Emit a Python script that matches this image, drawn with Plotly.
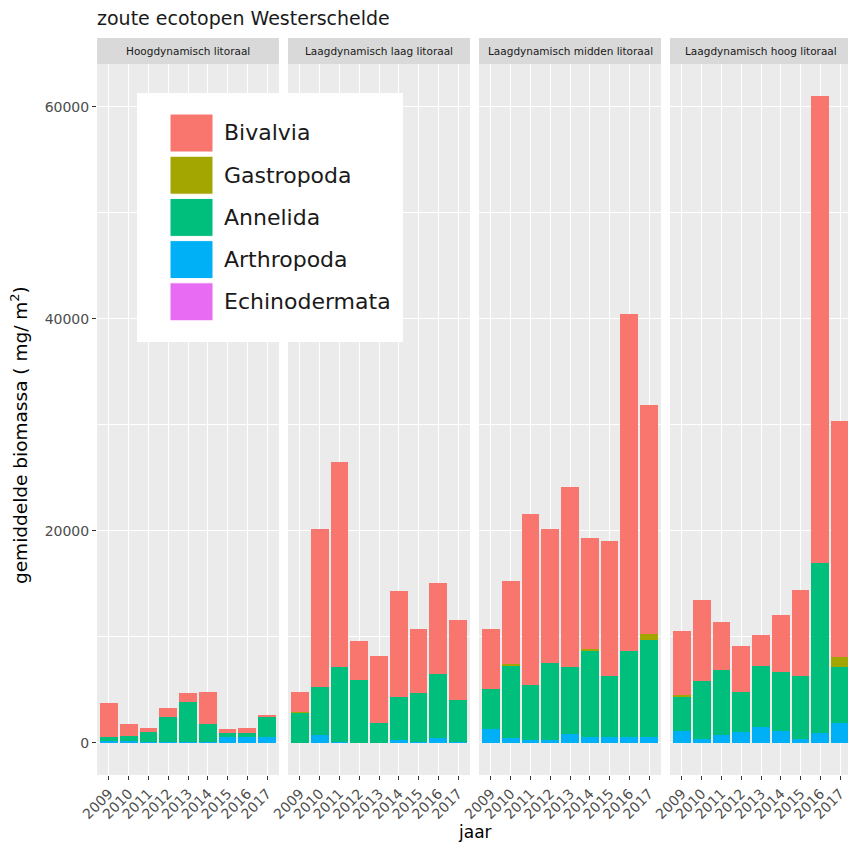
import plotly.graph_objects as go
from plotly.subplots import make_subplots

years = ["2009", "2010", "2011", "2012", "2013", "2014", "2015", "2016", "2017"]
panels = ["Hoogdynamisch litoraal", "Laagdynamisch laag litoraal",
          "Laagdynamisch midden litoraal", "Laagdynamisch hoog litoraal"]
groups = ["Bivalvia", "Gastropoda", "Annelida", "Arthropoda", "Echinodermata"]

bivalvia = [
    [3200, 1130, 380, 850, 850, 3020, 350, 470, 60],
    [1850, 14880, 19400, 3680, 6350, 10060, 6000, 8590, 7500],
    [5600, 7850, 16100, 12600, 16980, 10510, 12800, 31800, 21600],
    [6000, 7630, 4530, 4280, 2940, 5430, 8080, 44070, 22320],
]
gastropoda = [
    [0, 0, 0, 0, 0, 0, 0, 0, 0],
    [80, 0, 0, 0, 0, 0, 0, 0, 0],
    [0, 200, 0, 0, 0, 150, 0, 0, 630],
    [100, 0, 0, 0, 0, 0, 0, 0, 900],
]
annelida = [
    [410, 500, 900, 2290, 3740, 1690, 440, 440, 1950],
    [2850, 4500, 7000, 5900, 1850, 4000, 4590, 6070, 4000],
    [3840, 6800, 5250, 7300, 6350, 8200, 5700, 8200, 9150],
    [3260, 5500, 6100, 3800, 5750, 5590, 6000, 16000, 5340],
]
arthropoda = [
    [130, 130, 100, 100, 100, 100, 500, 500, 535],
    [0, 750, 100, 0, 0, 300, 100, 440, 70],
    [1260, 440, 220, 220, 820, 500, 570, 500, 500],
    [1140, 330, 730, 1020, 1470, 1060, 330, 940, 1840],
]
echinodermata = [
    [0, 0, 0, 0, 0, 0, 0, 0, 0],
    [0, 0, 0, 0, 0, 0, 0, 0, 0],
    [0, 0, 0, 0, 0, 0, 0, 0, 0],
    [0, 0, 0, 0, 0, 0, 0, 0, 0],
]

colors = {"Bivalvia": "#F8766D", "Gastropoda": "#A3A500", "Annelida": "#00BF7D",
          "Arthropoda": "#00B0F6", "Echinodermata": "#E76BF3"}
series = {"Bivalvia": bivalvia, "Gastropoda": gastropoda, "Annelida": annelida,
          "Arthropoda": arthropoda, "Echinodermata": echinodermata}

FONT = "DejaVu Sans"
OFF = 8                                   # page body margin of the browser
W, H = 856 - OFF, 852 - OFF               # figure canvas size
L, R, T, B = 97, 852, 38, 775             # plot-area box in page pixels
STRIP_TOP = 38
PANEL_TOP = 64


def px(x):
    return (x - L) / (R - L)


def py(y):
    return (B - y) / (B - T)


fig = make_subplots(rows=1, cols=4, shared_yaxes=True)

stack_order = ["Echinodermata", "Arthropoda", "Annelida", "Gastropoda", "Bivalvia"]
for p in range(4):
    for g in stack_order:
        fig.add_trace(go.Bar(x=years, y=series[g][p], name=g,
                             marker=dict(color=colors[g], line=dict(width=0)),
                             showlegend=False, legendgroup=g),
                      row=1, col=p + 1)

panel_px = [(97, 279), (288, 470), (479, 661), (670, 852)]
ydom = [0, py(PANEL_TOP)]
shapes = []
annotations = []
for i, (a, b) in enumerate(panel_px):
    xa = "xaxis" if i == 0 else f"xaxis{i+1}"
    ya = "yaxis" if i == 0 else f"yaxis{i+1}"
    fig.layout[xa].update(
        domain=[px(a), px(b)], type="category", range=[-0.6, 8.6],
        showgrid=True, gridcolor="white", gridwidth=1.1,
        ticks="outside", ticklen=4, tickcolor="#333333", tickwidth=1,
        tickangle=-45, tickfont=dict(family=FONT, size=14, color="#4D4D4D"),
        zeroline=False, showline=False, fixedrange=True, automargin=False)
    fig.layout[ya].update(
        domain=ydom, range=[-3050, 64050], tick0=0, dtick=20000, tickformat="d",
        showgrid=True, gridcolor="white", gridwidth=1.1,
        minor=dict(dtick=10000, tick0=0, showgrid=True, gridcolor="white", gridwidth=0.5),
        zeroline=False, showline=False,
        ticks="outside" if i == 0 else "", ticklen=4, tickcolor="#333333",
        showticklabels=(i == 0), automargin=False,
        tickfont=dict(family=FONT, size=14, color="#4D4D4D"))
    # facet strip
    shapes.append(dict(type="rect", xref="paper", yref="paper",
                       x0=px(a), x1=px(b), y0=py(PANEL_TOP), y1=py(STRIP_TOP),
                       fillcolor="#D9D9D9", line=dict(width=0), layer="below"))
    annotations.append(dict(text=panels[i], xref="paper", yref="paper",
                            x=(px(a) + px(b)) / 2, y=(py(PANEL_TOP) + py(STRIP_TOP)) / 2,
                            showarrow=False, xanchor="center", yanchor="middle",
                            font=dict(family=FONT, size=10.5, color="#1A1A1A")))

# legend box (ggplot-style inside legend)
shapes.append(dict(type="rect", xref="paper", yref="paper",
                   x0=px(137), x1=px(403), y0=py(342), y1=py(93),
                   fillcolor="white", line=dict(width=0), layer="above"))
for k, g in enumerate(groups):
    top = 114 + k * 42.2
    shapes.append(dict(type="rect", xref="paper", yref="paper",
                       x0=px(170), x1=px(213), y0=py(top + 38), y1=py(top),
                       fillcolor=colors[g], line=dict(color="white", width=1),
                       layer="above"))
    annotations.append(dict(text=g, xref="paper", yref="paper",
                            x=px(222), y=py(top + 19), showarrow=False,
                            xanchor="left", yanchor="middle",
                            font=dict(family=FONT, size=22, color="#1A1A1A")))

# axis titles
annotations.append(dict(text="gemiddelde biomassa ( mg/ m<sup>2</sup>)",
                        xref="paper", yref="paper", x=px(19), y=py(435),
                        textangle=-90, showarrow=False, xanchor="center", yanchor="middle",
                        font=dict(family=FONT, size=18.5, color="black")))
annotations.append(dict(text="jaar", xref="paper", yref="paper",
                        x=px((L + R) / 2), y=py(832), showarrow=False,
                        xanchor="center", yanchor="middle",
                        font=dict(family=FONT, size=17, color="black")))

fig.update_layout(
    width=W, height=H,
    margin=dict(l=L - OFF, r=(856 - OFF) - (R - OFF), t=T - OFF, b=(852 - OFF) - (B - OFF),
                autoexpand=False),
    barmode="stack", bargap=0.1,
    plot_bgcolor="#EBEBEB", paper_bgcolor="white",
    title=dict(text="zoute ecotopen Westerschelde", x=0, xref="paper",
               xanchor="left", y=1 - (18 - OFF) / H, yanchor="middle",
               font=dict(family=FONT, size=19, color="#1A1A1A")),
    shapes=shapes, annotations=annotations, showlegend=False,
    font=dict(family=FONT),
)

fig.write_html("out.html")
